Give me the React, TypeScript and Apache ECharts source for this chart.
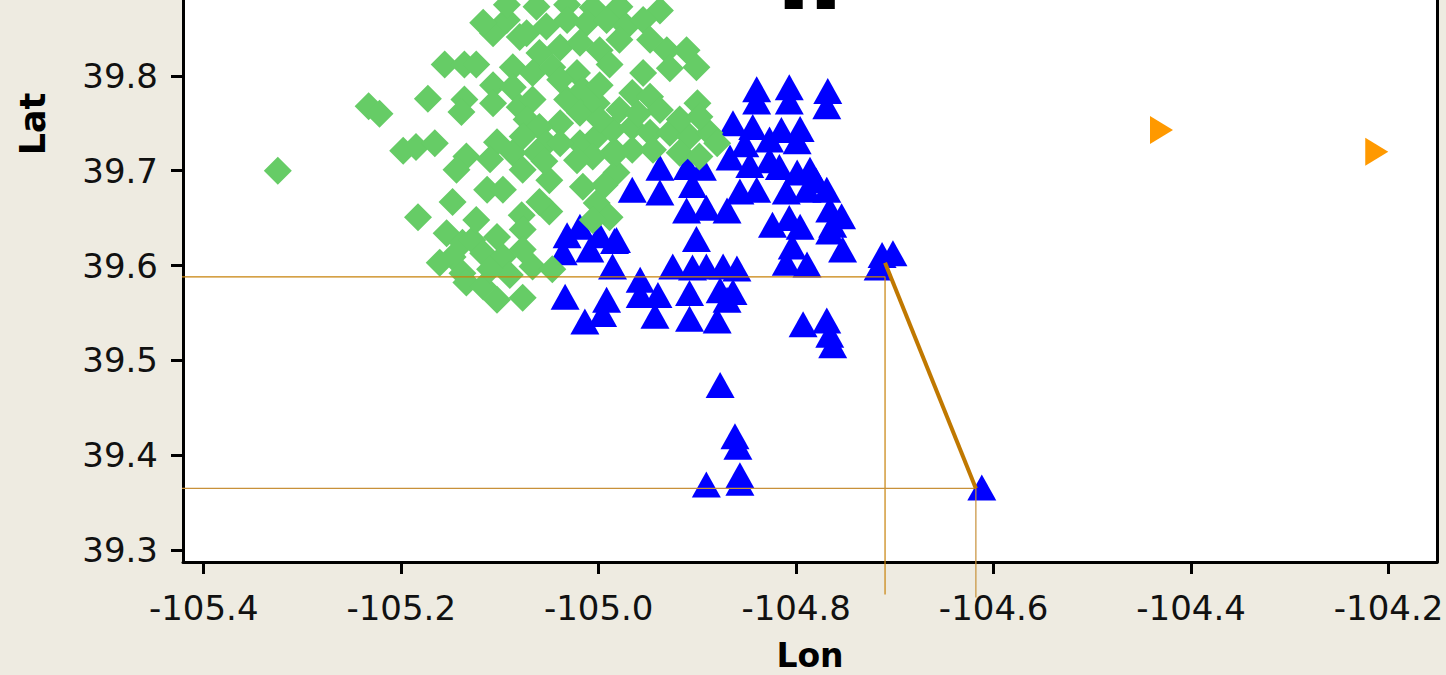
import React, { useEffect, useRef } from "react";
import * as echarts from "echarts";

const lonTicks = [-105.4, -105.2, -105.0, -104.8, -104.6, -104.4, -104.2];
const latTicks = [39.3, 39.4, 39.5, 39.6, 39.7, 39.8];
const lonRange = [-105.421, -104.151];
const latRange = [39.2874, 39.88];

const greenPoints = [
  [-105.325, 39.700], [-105.233, 39.768], [-105.222, 39.760], [-105.198, 39.721], [-105.185, 39.725],
  [-105.166, 39.729], [-105.173, 39.776], [-105.156, 39.812], [-105.136, 39.812], [-105.124, 39.812],
  [-105.136, 39.775], [-105.139, 39.762], [-105.107, 39.790], [-105.107, 39.771], [-105.134, 39.715],
  [-105.103, 39.730], [-105.107, 39.845], [-105.093, 39.859], [-105.080, 39.841], [-105.093, 39.875],
  [-105.063, 39.873], [-105.032, 39.875], [-105.006, 39.872], [-104.979, 39.873], [-104.938, 39.869],
  [-105.073, 39.845], [-105.053, 39.852], [-105.032, 39.859], [-105.012, 39.856], [-104.992, 39.859],
  [-104.972, 39.852], [-104.955, 39.859], [-105.060, 39.824], [-105.039, 39.830], [-105.019, 39.835],
  [-104.999, 39.827], [-104.979, 39.838], [-105.087, 39.809], [-105.067, 39.803], [-105.047, 39.809],
  [-105.022, 39.803], [-105.087, 39.788], [-105.080, 39.767], [-105.067, 39.775], [-105.073, 39.754],
  [-105.032, 39.775], [-105.016, 39.785], [-105.019, 39.761], [-105.002, 39.771], [-105.039, 39.750],
  [-104.931, 39.827], [-104.911, 39.827], [-104.928, 39.808], [-104.901, 39.809], [-104.966, 39.782],
  [-104.948, 39.778], [-104.938, 39.764], [-104.900, 39.771], [-105.019, 39.729], [-105.002, 39.736],
  [-104.986, 39.743], [-104.966, 39.746], [-104.948, 39.740], [-104.928, 39.740], [-104.908, 39.736],
  [-104.888, 39.740], [-104.880, 39.729], [-105.006, 39.715], [-104.986, 39.719], [-104.966, 39.722],
  [-104.945, 39.722], [-104.918, 39.719], [-104.898, 39.715], [-105.060, 39.746], [-105.053, 39.729],
  [-105.063, 39.719], [-105.144, 39.701], [-105.113, 39.680], [-105.097, 39.680], [-105.087, 39.719],
  [-105.077, 39.701], [-105.050, 39.690], [-105.148, 39.667], [-105.183, 39.651], [-105.154, 39.634],
  [-105.050, 39.657], [-105.078, 39.653], [-105.077, 39.638], [-105.148, 39.609], [-105.138, 39.624],
  [-105.128, 39.627], [-105.103, 39.630], [-105.117, 39.613], [-105.097, 39.609], [-105.077, 39.617],
  [-105.067, 39.599], [-105.047, 39.596], [-105.138, 39.592], [-105.134, 39.582], [-105.117, 39.578],
  [-105.103, 39.564], [-105.077, 39.566], [-105.022, 39.711], [-105.016, 39.683], [-105.002, 39.666],
  [-104.989, 39.651], [-105.006, 39.648], [-104.982, 39.698], [-104.982, 39.719], [-104.994, 39.685],
  [-104.989, 39.812], [-104.955, 39.803], [-105.039, 39.796], [-104.999, 39.790], [-104.979, 39.764],
  [-104.960, 39.760], [-105.039, 39.729], [-104.999, 39.754], [-104.918, 39.754], [-104.898, 39.757],
  [-105.077, 39.736], [-105.110, 39.712], [-105.060, 39.667], [-105.161, 39.603], [-105.090, 39.590],
  [-105.110, 39.596], [-105.055, 39.710], [-105.117, 39.856], [-104.948, 39.838], [-105.124, 39.648],
];

const bluePoints = [
  [-104.840, 39.786], [-104.840, 39.773], [-104.807, 39.788], [-104.807, 39.773], [-104.768, 39.784],
  [-104.769, 39.768], [-104.864, 39.750], [-104.844, 39.746], [-104.815, 39.743], [-104.796, 39.744],
  [-104.799, 39.731], [-104.938, 39.703], [-104.938, 39.677], [-104.910, 39.704], [-104.895, 39.703],
  [-104.905, 39.685], [-104.911, 39.658], [-104.891, 39.661], [-104.870, 39.658], [-104.867, 39.714],
  [-104.847, 39.706], [-104.827, 39.711], [-104.817, 39.704], [-104.799, 39.698], [-104.786, 39.701],
  [-104.857, 39.678], [-104.840, 39.680], [-104.810, 39.678], [-104.789, 39.680], [-104.769, 39.680],
  [-104.766, 39.659], [-104.763, 39.643], [-104.824, 39.643], [-104.807, 39.650], [-104.796, 39.641],
  [-104.966, 39.680], [-105.019, 39.641], [-104.999, 39.632], [-104.982, 39.627], [-104.901, 39.628],
  [-104.753, 39.617], [-104.713, 39.611], [-104.702, 39.613], [-104.717, 39.598], [-105.032, 39.632],
  [-105.036, 39.614], [-105.009, 39.617], [-104.984, 39.626], [-104.986, 39.599], [-104.925, 39.599],
  [-104.905, 39.598], [-104.891, 39.599], [-104.874, 39.599], [-104.860, 39.597], [-104.804, 39.620],
  [-104.810, 39.603], [-104.789, 39.601], [-104.766, 39.636], [-105.034, 39.567], [-105.014, 39.541],
  [-104.992, 39.564], [-104.996, 39.549], [-104.958, 39.585], [-104.958, 39.569], [-104.940, 39.569],
  [-104.943, 39.547], [-104.908, 39.571], [-104.908, 39.544], [-104.877, 39.574], [-104.864, 39.572],
  [-104.880, 39.542], [-104.870, 39.564], [-104.793, 39.538], [-104.769, 39.542], [-104.766, 39.527],
  [-104.763, 39.516], [-104.877, 39.474], [-104.862, 39.420], [-104.859, 39.409], [-104.857, 39.379],
  [-104.857, 39.371], [-104.891, 39.369], [-104.612, 39.366],
  [-104.827, 39.733], [-104.754, 39.652], [-104.852, 39.728], [-104.780, 39.690],
];

const orangePoints = [
  [-104.430, 39.743],
  [-104.212, 39.720],
];

const blackPoints = [
  [-104.8025, 39.880],
  [-104.770, 39.880],
];

const guideA = [
  [-105.445, 39.588],
  [-104.710, 39.588],
  [-104.710, 39.253],
];
const guideB = [
  [-105.429, 39.365],
  [-104.618, 39.365],
  [-104.618, 39.250],
];
const linkLine = [
  [-104.710, 39.603],
  [-104.618, 39.365],
];

const FONT = "DejaVu Sans";

export default function App() {
  const ref = useRef<HTMLDivElement>(null);

  useEffect(() => {
    if (!ref.current) return;
    const chart = echarts.init(ref.current, undefined, { renderer: "svg" });
    const fmt = (v: number) => v.toFixed(1);
    chart.setOption({
      animation: false,
      backgroundColor: "#EEEBE1",
      grid: {
        left: 183,
        right: 9,
        top: 0,
        bottom: 113,
        outerBoundsMode: "none",
        containLabel: false,
        show: true,
        backgroundColor: "#FFFFFF",
        borderWidth: 0,
      },
      xAxis: {
        type: "value",
        min: lonRange[0],
        max: lonRange[1],
        axisLine: { show: true, onZero: false, lineStyle: { color: "#000", width: 3 } },
        axisTick: { show: true, length: 12, lineStyle: { color: "#000", width: 3 }, customValues: lonTicks },
        axisLabel: {
          customValues: lonTicks,
          formatter: fmt,
          fontFamily: FONT,
          fontSize: 34,
          lineHeight: 34,
          color: "#111",
          margin: 29,
        },
        splitLine: { show: false },
        name: "Lon",
        nameLocation: "middle",
        nameGap: 78,
        nameTextStyle: { fontFamily: FONT, fontWeight: "bold", fontSize: 33, lineHeight: 30, color: "#000" },
      },
      yAxis: [
        {
          type: "value",
          min: latRange[0],
          max: latRange[1],
          axisLine: { show: true, onZero: false, lineStyle: { color: "#000", width: 3 } },
          axisTick: { show: true, length: 12, lineStyle: { color: "#000", width: 3 }, customValues: latTicks },
          axisLabel: {
            customValues: latTicks,
            formatter: fmt,
            fontFamily: FONT,
            fontSize: 34,
            color: "#111",
            margin: 25,
          },
          splitLine: { show: false },
        },
        {
          type: "value",
          position: "right",
          min: latRange[0],
          max: latRange[1],
          axisLine: { show: true, onZero: false, lineStyle: { color: "#000", width: 3 } },
          axisTick: { show: false },
          axisLabel: { show: false },
          splitLine: { show: false },
        },
      ],
      graphic: [
        {
          type: "text",
          x: 33,
          y: 124,
          rotation: Math.PI / 2,
          style: {
            text: "Lat",
            fontFamily: FONT,
            fontWeight: "bold",
            fontSize: 35,
            fill: "#000",
            align: "center",
            verticalAlign: "middle",
          },
        },
      ],
      series: [
        {
          type: "scatter",
          data: bluePoints,
          symbol: "triangle",
          symbolSize: [29, 26],
          itemStyle: { color: "#0000FF", opacity: 1 },
          clip: false,
          z: 2,
        },
        {
          type: "scatter",
          data: greenPoints,
          symbol: "diamond",
          symbolSize: 28,
          itemStyle: { color: "#66CC66", opacity: 1 },
          clip: false,
          z: 3,
        },
        {
          type: "scatter",
          data: orangePoints,
          symbol: "triangle",
          symbolRotate: -90,
          symbolSize: [28, 23],
          itemStyle: { color: "#FF9900", opacity: 1 },
          clip: false,
          z: 3,
        },
        {
          type: "scatter",
          data: blackPoints,
          symbol: "rect",
          symbolSize: [18, 18],
          itemStyle: { color: "#000", opacity: 1 },
          clip: false,
          z: 3,
        },
        {
          type: "line",
          data: guideA,
          symbol: "none",
          clip: false,
          lineStyle: { color: "#C8820A", width: 1.2 },
          z: 5,
        },
        {
          type: "line",
          data: guideB,
          symbol: "none",
          clip: false,
          lineStyle: { color: "#C8913A", width: 1.2 },
          z: 5,
        },
        {
          type: "line",
          data: linkLine,
          symbol: "none",
          clip: false,
          lineStyle: { color: "#C07800", width: 4 },
          z: 6,
        },
      ],
    });
    return () => chart.dispose();
  }, []);

  return (
    <div
      ref={ref}
      style={{ position: "absolute", left: 0, top: 0, width: 1446, height: 675 }}
    />
  );
}
